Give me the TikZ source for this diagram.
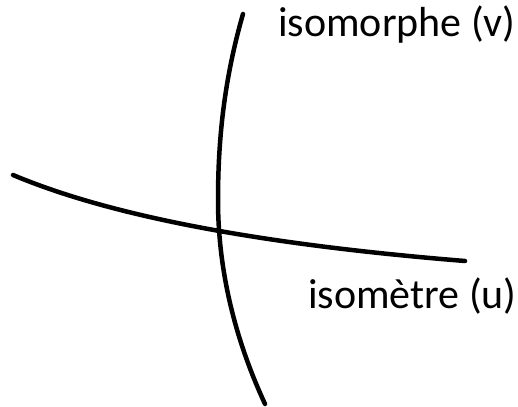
\documentclass[tikz,border=0pt]{standalone}
\usepackage{fontspec}
\setmainfont{Carlito}
\begin{document}
\begin{tikzpicture}[x=1pt,y=-1pt,
  curve/.style={line width=4.5pt,line cap=round},
  lbl/.style={anchor=base west,inner sep=0pt,font=\fontsize{42}{50}\selectfont}]
\useasboundingbox (0,0) rectangle (518,406);
\coordinate (vt) at (243,14);
\coordinate (vm) at (218,200);
\coordinate (vb) at (265,404);
\coordinate (hl) at (13,175);
\coordinate (hr) at (465,261);
\draw[curve] (vt) .. controls (224,80) and (218,140) .. (vm)
                  .. controls (218,280) and (240,350) .. (vb);
\draw[curve] (hl) .. controls (120,220) and (280,246) .. (hr);
\node[lbl] (v) at (278,37) {isomorphe (v)};
\node[lbl] (u) at (308,308) {isomètre (u)};
\end{tikzpicture}
\end{document}
